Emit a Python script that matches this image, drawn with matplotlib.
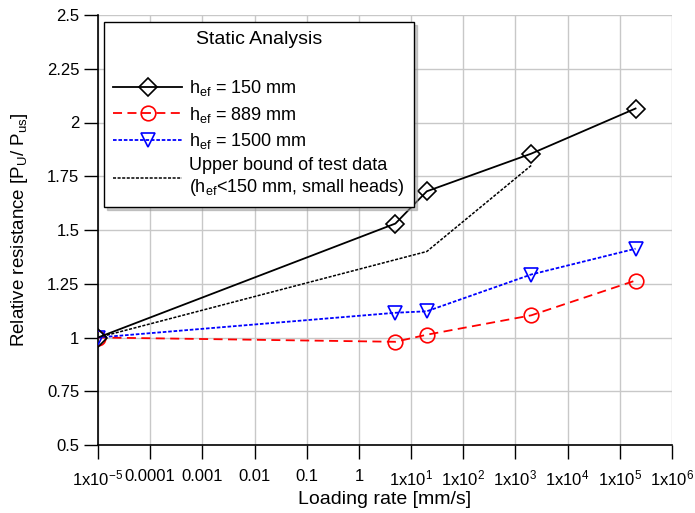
import matplotlib
matplotlib.use("Agg")
import matplotlib.pyplot as plt

plt.rcParams['font.family'] = 'Liberation Sans'
plt.rcParams['mathtext.fontset'] = 'custom'
plt.rcParams['mathtext.rm'] = 'Liberation Sans'
plt.rcParams['mathtext.it'] = 'Liberation Sans'
plt.rcParams['font.size'] = 12

rate = [1e-5, 5, 20, 2000, 2e5]
h150 = [1.0, 1.53, 1.68, 1.855, 2.065]
h889 = [1.0, 0.98, 1.013, 1.103, 1.265]
h1500 = [1.0, 1.115, 1.122, 1.293, 1.413]
bound_rate = [1e-5, 20, 2000]
bound = [1.0, 1.40, 1.80]

xticks = [1e-5, 1e-4, 1e-3, 1e-2, 1e-1, 1, 1e1, 1e2, 1e3, 1e4, 1e5, 1e6]
xticklabels = [r'1x10$^{-5}$', '0.0001', '0.001', '0.01', '0.1', '1',
               r'1x10$^{1}$', r'1x10$^{2}$', r'1x10$^{3}$', r'1x10$^{4}$',
               r'1x10$^{5}$', r'1x10$^{6}$']
yticks = [0.5, 0.75, 1, 1.25, 1.5, 1.75, 2, 2.25, 2.5]
yticklabels = ['0.5', '0.75', '1', '1.25', '1.5', '1.75', '2', '2.25', '2.5']

fig = plt.figure(figsize=(6.95, 5.13), dpi=100)
ax = fig.add_axes([98/695, 1 - 445/513, 574/695, 430/513])

ax.plot(rate, h150, color='black', linestyle='-', linewidth=1.3, marker='D',
        markersize=9, fillstyle='none', markeredgewidth=1.2, label=r'h$_{\mathrm{ef}}$ = 150 mm', zorder=4)
ax.plot(rate, h889, color='red', linestyle=(0, (5, 3)), linewidth=1.3, marker='o',
        markersize=10.5, fillstyle='none', markeredgewidth=1.2, label=r'h$_{\mathrm{ef}}$ = 889 mm', zorder=3)
ax.plot(rate, h1500, color='blue', linestyle=(0, (2, 1)), linewidth=1.3, marker='v',
        markersize=10, fillstyle='none', markeredgewidth=1.2, label=r'h$_{\mathrm{ef}}$ = 1500 mm', zorder=3)
ax.plot(bound_rate, bound, color='black', linestyle=(0, (2, 1)), linewidth=1.1,
        label='Upper bound of test data\n' + r'(h$_{\mathrm{ef}}$<150 mm, small heads)', zorder=2)

ax.set_xscale('log')
ax.set_xlim(1e-5, 1e6)
ax.set_ylim(0.5, 2.5)
ax.set_xticks(xticks)
ax.set_xticklabels(xticklabels)
ax.minorticks_off()
ax.set_yticks(yticks)
ax.set_yticklabels(yticklabels)
ax.tick_params(direction='out', length=10, width=1, colors='black', labelsize=12)
ax.tick_params(axis='x', pad=7)

ax.grid(True, color='#c8c8c8', linewidth=1)
ax.set_axisbelow(True)
ax.spines['top'].set_visible(False)
ax.spines['right'].set_visible(False)
ax.spines['left'].set_linewidth(1.2)
ax.spines['bottom'].set_linewidth(1.2)

ax.set_xlabel('Loading rate [mm/s]', fontsize=14, labelpad=2)
ax.set_ylabel(r'Relative resistance [P$_{\mathrm{U}}$/ P$_{\mathrm{us}}$]', fontsize=13.5, labelpad=12)

leg = ax.legend(title='Static Analysis', loc='upper left', bbox_to_anchor=(0.011, 0.984),
                borderaxespad=0, fontsize=13, title_fontsize=14, frameon=True, fancybox=False,
                shadow={'color': '0.6'}, handlelength=3.8, handletextpad=0.4,
                borderpad=0.5, labelspacing=0.35)
leg.get_frame().set_edgecolor('black')
leg.get_frame().set_linewidth(1)
leg._legend_box.sep = 22

fig.savefig('out.png', dpi=100)
